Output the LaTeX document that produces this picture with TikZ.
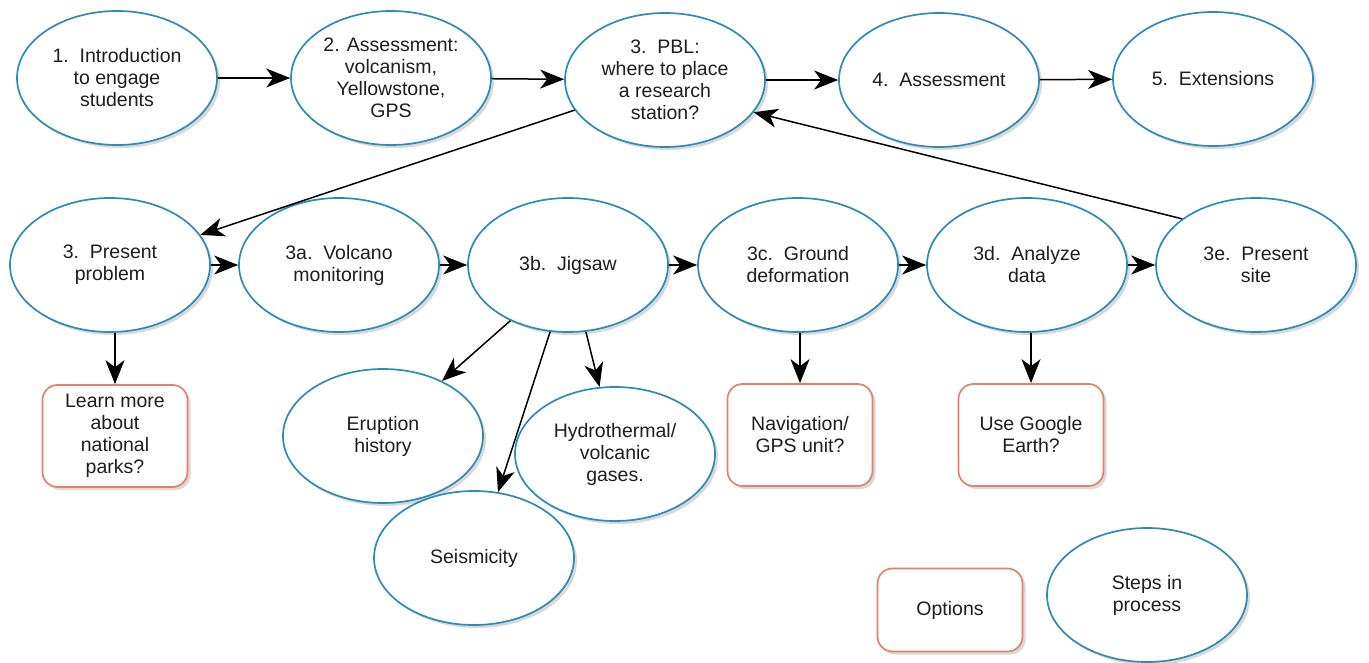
\documentclass[tikz,border=0pt]{standalone}
\usepackage{fontspec}
\setmainfont{Liberation Sans}
\usetikzlibrary{shapes.geometric,arrows.meta,shadows}
\definecolor{stepblue}{HTML}{2F8AB5}
\definecolor{optred}{HTML}{E67F6B}
\definecolor{txt}{HTML}{1E1E1E}
\tikzset{
  stepnode/.style={ellipse, draw=stepblue, line width=1.7pt, fill=white,
    minimum width=200pt, minimum height=134pt, inner sep=0pt, align=center,
    text=txt, font=\fontsize{19.5}{22}\selectfont,
    drop shadow={shadow xshift=3pt, shadow yshift=-3pt, opacity=0.3}},
  optnode/.style={rectangle, rounded corners=15pt, draw=optred, line width=1.7pt, fill=white,
    minimum width=145pt, minimum height=102pt, inner sep=0pt, align=center,
    text=txt, font=\fontsize{19.5}{22}\selectfont,
    drop shadow={shadow xshift=3pt, shadow yshift=-3pt, opacity=0.3}},
  conn/.style={draw=black, line width=1.5pt,
    -{Stealth[length=24pt, width=19pt, inset=7pt]}}
}
\begin{document}
\begin{tikzpicture}[x=1pt, y=-1pt]
\useasboundingbox (0,0) rectangle (1369,663);
% top row
\node[stepnode] (intro) at (117,78) {1.\ \ Introduction\\to engage\\students};
\node[stepnode] (assess) at (391,78) {2. Assessment:\\volcanism,\\Yellowstone,\\GPS};
\node[stepnode] (pbl) at (665,80) {3.\ \ PBL:\\where to place\\a research\\station?};
\node[stepnode] (a4) at (939,80) {4.\ \ Assessment};
\node[stepnode] (ext) at (1213,79) {5.\ \ Extensions};
% second row
\node[stepnode] (present) at (110,265) {3.\ \ Present\\problem};
\node[stepnode] (va) at (339,265) {3a.\ \ Volcano\\monitoring};
\node[stepnode] (jig) at (568,265) {3b.\ \ Jigsaw};
\node[stepnode] (gd) at (798,265) {3c.\ \ Ground\\deformation};
\node[stepnode] (ad) at (1027,265) {3d.\ \ Analyze\\data};
\node[stepnode] (ps) at (1256,265) {3e.\ \ Present\\site};
% lower
\node[optnode] (learn) at (115,436) {Learn more\\about\\national\\parks?};
\node[stepnode] (erup) at (383,436) {Eruption\\history};
\node[stepnode] (hydro) at (615,454) {Hydrothermal/\\volcanic\\gases.};
\node[stepnode] (seis) at (474,558) {Seismicity};
\node[optnode] (nav) at (800,435) {Navigation/\\GPS unit?};
\node[optnode] (ge) at (1031,435) {Use Google\\Earth?};
% legend
\node[optnode, minimum height=83pt] (opt) at (950,610) {Options};
\node[stepnode] (steps) at (1147,595) {Steps in\\process};
% connectors
\draw[conn] (intro) -- (assess);
\draw[conn] (assess) -- (pbl);
\draw[conn] (pbl) -- (a4);
\draw[conn] (a4) -- (ext);
\draw[conn] (pbl) -- (present);
\draw[conn] (ps.148) -- (pbl.-20);
\draw[conn] (present) -- (va);
\draw[conn] (va) -- (jig);
\draw[conn] (jig) -- (gd);
\draw[conn] (gd) -- (ad);
\draw[conn] (ad) -- (ps);
\draw[conn] (learn.north |- present.south) -- (learn.north);
\draw[conn] (nav.north |- gd.south) -- (nav.north);
\draw[conn] (ge.north |- ad.south) -- (ge.north);
\draw[conn] (jig.224) -- (erup.43);
\draw[conn] (jig.255) -- (seis.70);
\draw[conn] (jig.-75) -- (hydro.103);
\end{tikzpicture}
\end{document}
